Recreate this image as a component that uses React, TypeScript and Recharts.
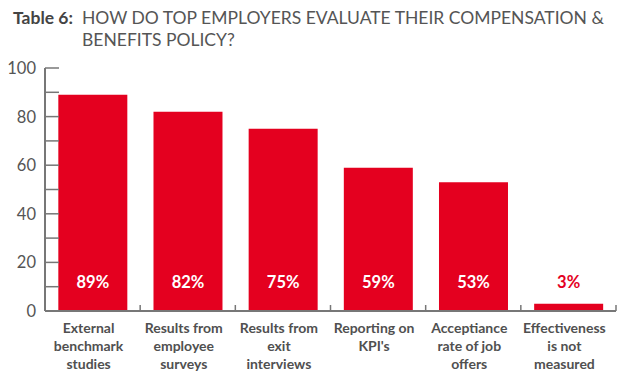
import { BarChart, Bar, XAxis, YAxis, LabelList } from 'recharts';

const categories = [
  'External\nbenchmark\nstudies',
  'Results from\nemployee\nsurveys',
  'Results from\nexit\ninterviews',
  "Reporting on\nKPI's",
  'Acceptiance\nrate of job\noffers',
  'Effectiveness\nis not\nmeasured',
];
const percentages = [89, 82, 75, 59, 53, 3];
const yTicks = [0, 10, 20, 30, 40, 50, 60, 70, 80, 90, 100];

const RED = '#e4001f';
const AXIS = '#777';
const WIDTH = 640;
const HEIGHT = 382;
const LEFT = 45;
const RIGHT = 24;
const BAND = (WIDTH - LEFT - RIGHT) / categories.length;

const data = categories.map((name, i) => ({ name, value: percentages[i] }));

const YTick = (props: any) => {
  const { x, y, payload } = props;
  const v = payload.value as number;
  return (
    <g>
      <line x1={x} x2={x + 14} y1={y} y2={y} stroke={AXIS} strokeWidth={1.5} />
      {v % 20 === 0 && (
        <text x={x - 9} y={y + 6} textAnchor="end" fontSize={16.5} fill="#555" fontFamily="Lato">
          {v}
        </text>
      )}
    </g>
  );
};

const XTick = (props: any) => {
  const { x, y, payload } = props;
  const lines = String(payload.value).split('\n');
  return (
    <g>
      <line x1={x + BAND / 2} x2={x + BAND / 2} y1={y - 6} y2={y} stroke={AXIS} strokeWidth={1.5} />
      <text x={x - 4} y={y + 22} textAnchor="middle" fontSize={14} fontWeight={700} fill="#505050" fontFamily="Lato">
        {lines.map((l, i) => (
          <tspan key={i} x={x - 4} dy={i === 0 ? 0 : 18}>
            {l}
          </tspan>
        ))}
      </text>
    </g>
  );
};

const PctLabel = (props: any) => {
  const { x, y, width, height, value } = props;
  const bottom = y + height;
  return (
    <text
      x={x + width / 2}
      y={bottom - 23}
      textAnchor="middle"
      fontSize={16.5}
      fontWeight={700}
      fill={value < 10 ? RED : '#fff'}
      fontFamily="Lato"
    >
      {value}%
    </text>
  );
};

export default function App() {
  return (
    <div style={{ position: 'relative', width: WIDTH, height: HEIGHT, margin: -8, background: '#fff', fontFamily: 'Lato' }}>
      <div style={{ position: 'absolute', left: 13, top: 7, fontSize: 17.5, lineHeight: '22px', color: '#555', whiteSpace: 'nowrap' }}>
        <span style={{ fontWeight: 700, color: '#444', display: 'inline-block', width: 69 }}>Table 6:</span>
        <span>HOW DO TOP EMPLOYERS EVALUATE THEIR COMPENSATION &amp;</span>
        <div style={{ paddingLeft: 69 }}>BENEFITS POLICY?</div>
      </div>
      <BarChart
        width={WIDTH}
        height={HEIGHT}
        data={data}
        margin={{ top: 68, right: RIGHT, bottom: 0, left: 0 }}
        barCategoryGap="14%"
      >
        <XAxis
          dataKey="name"
          height={HEIGHT - 311}
          axisLine={{ stroke: AXIS, strokeWidth: 2 }}
          tickLine={false}
          tickSize={0}
          tickMargin={0}
          interval={0}
          tick={<XTick />}
        />
        <YAxis
          width={LEFT}
          domain={[0, 100]}
          ticks={yTicks}
          interval={0}
          axisLine={{ stroke: AXIS, strokeWidth: 2 }}
          tickLine={false}
          tickSize={0}
          tickMargin={0}
          tick={<YTick />}
        />
        <Bar dataKey="value" fill={RED} isAnimationActive={false}>
          <LabelList dataKey="value" content={<PctLabel />} />
        </Bar>
      </BarChart>
    </div>
  );
}
